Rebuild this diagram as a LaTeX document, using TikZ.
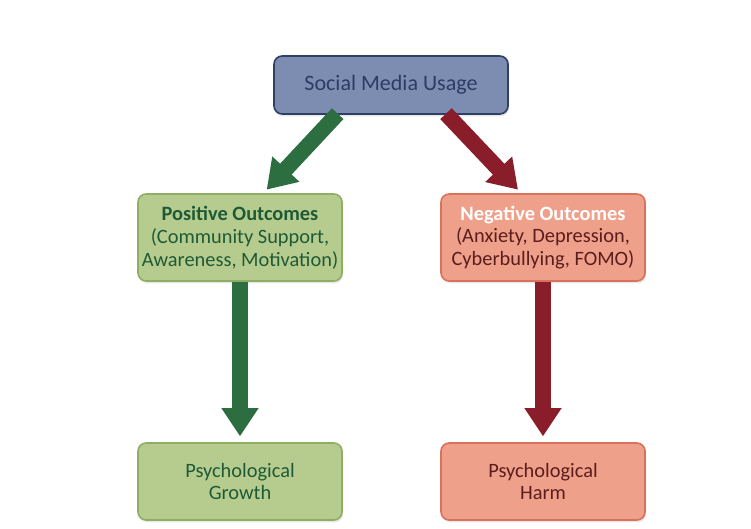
\documentclass[tikz,border=0pt]{standalone}
\usepackage{fontspec}
\setmainfont{Carlito}
\usepackage{tikz}
\usetikzlibrary{positioning,arrows.meta,shadows}

\definecolor{topfill}{HTML}{7C8DB1}
\definecolor{topdraw}{HTML}{2F3F66}
\definecolor{toptext}{HTML}{2B3D66}
\definecolor{posfill}{HTML}{B6CC8F}
\definecolor{posdraw}{HTML}{8DAE63}
\definecolor{postext}{HTML}{1F5A36}
\definecolor{negfill}{HTML}{EFA08A}
\definecolor{negdraw}{HTML}{D9725C}
\definecolor{negtext}{HTML}{5B1D1D}
\definecolor{posarrow}{HTML}{2C6E3F}
\definecolor{negarrow}{HTML}{8A1D2A}

\begin{document}
\begin{tikzpicture}[
		x=0.03cm, y=-0.03cm,
		box/.style={rectangle, rounded corners=7pt, line width=1.4pt, align=center,
			font=\fontsize{17.4}{19.5}\selectfont, inner xsep=0pt, inner ysep=2pt,
			drop shadow={shadow xshift=1pt, shadow yshift=-2pt, opacity=0.18}},
		topbox/.style={box, fill=topfill, draw=topdraw, text=toptext, minimum width=7.02cm, minimum height=1.74cm,
			font=\fontsize{18.8}{20}\selectfont},
		posbox/.style={box, fill=posfill, draw=posdraw, text=postext, minimum width=6.12cm, minimum height=#1},
		negbox/.style={box, fill=negfill, draw=negdraw, text=negtext, minimum width=6.12cm, minimum height=#1},
		fat/.style={line width=13.5pt, draw=#1, -{Triangle[length=24pt, width=30pt]}}
		]
		\useasboundingbox (0,0) rectangle (751,529);
		
		%==================== Nodes ====================%
		\node[topbox] (usage) at (391,85) {Social Media Usage};
		
		\node[posbox=2.61cm] (positive) at (240,237.5) {\textbf{Positive Outcomes}\\(Community Support,\\Awareness, Motivation)};
		\node[negbox=2.61cm] (negative) at (543,237.5) {\textbf{\color{white}Negative Outcomes}\\(Anxiety, Depression,\\Cyberbullying, FOMO)};
		
		\node[posbox=2.31cm] (growth) at (240,481.5) {Psychological\\Growth};
		\node[negbox=2.31cm] (harm) at (543,481.5) {Psychological\\Harm};
		
		%==================== Arrows ====================%
		\draw[fat=posarrow] ([xshift=-1.6cm,yshift=1pt]usage.south) -- ([xshift=0.8cm,yshift=3pt]positive.north);
		\draw[fat=negarrow] ([xshift=1.65cm,yshift=1pt]usage.south) -- ([xshift=-0.75cm,yshift=3pt]negative.north);
		
		\draw[fat=posarrow, shorten >=5pt] (positive) -- (growth);
		\draw[fat=negarrow, shorten >=5pt] (negative) -- (harm);
		
	\end{tikzpicture}
\end{document}
